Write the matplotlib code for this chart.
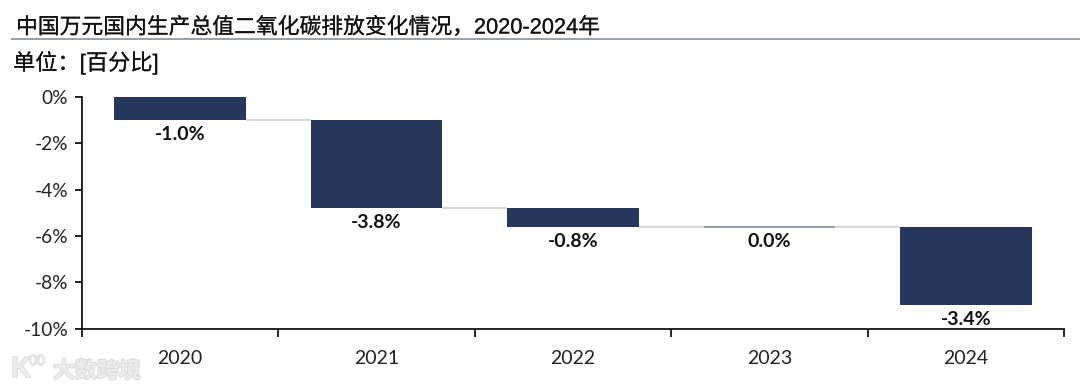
import matplotlib
matplotlib.use('Agg')
import matplotlib.pyplot as plt
import matplotlib.patheffects as pe
import numpy as np

plt.rcParams['font.family'] = ['Lato', 'Noto Sans CJK SC', 'DejaVu Sans']

# datos
years = ['2020', '2021', '2022', '2023', '2024']
changes = [-1.0, -3.8, -0.8, 0.0, -3.4]
change_labels = ['-1.0%', '-3.8%', '-0.8%', '0.0%', '-3.4%']
y_ticks = [0, -2, -4, -6, -8, -10]
y_tick_labels = ['0%', '-2%', '-4%', '-6%', '-8%', '-10%']

title = '中国万元国内生产总值二氧化碳排放变化情况，2020-2024年'
unit = '单位：[百分比]'
watermark = '大数跨境'

W, H = 1080, 391
navy = '#28375E'

fig = plt.figure(figsize=(W / 100, H / 100), dpi=100)
ax = fig.add_axes([82 / W, 1 - 328.5 / H, (1064 - 82) / W, (328.5 - 97) / H])

# barras en cascada
x = np.arange(len(years))
ends = np.cumsum(changes)
tops = ends - np.array(changes)
width = 0.67

# conectores grises
for i in range(len(years) - 1):
    ax.plot([x[i] + width / 2, x[i + 1] - width / 2], [ends[i], ends[i]],
            color='#D9D9D9', lw=1.6, zorder=1, solid_capstyle='butt')

ax.bar(x, changes, width, bottom=tops, color=navy, zorder=2)
ax.plot([x[3] - width / 2, x[3] + width / 2], [ends[3], ends[3]],
        color='#7F87A0', lw=1.2, zorder=2, solid_capstyle='butt')

for i in range(len(years)):
    ax.annotate(change_labels[i], (x[i], ends[i]), xytext=(0, -4.3),
                textcoords='offset points', ha='center', va='top',
                fontsize=14, fontweight='bold', color='#111111', zorder=3)

ax.set_xlim(-0.5, 4.5)
ax.set_ylim(-10, 0)
ax.set_yticks(y_ticks)
ax.set_yticklabels(y_tick_labels, fontsize=13.8, color='#222222')
ax.set_xticks(np.arange(-0.5, 5, 1))
ax.set_xticklabels([])
ax.tick_params(axis='y', length=5, width=1.2, pad=5)
ax.tick_params(axis='x', length=6, width=1.2)
for i in range(len(years)):
    ax.annotate(years[i], (x[i], -10), xytext=(0, -21.5),
                textcoords='offset points', ha='center', va='center',
                fontsize=14, color='#222222', annotation_clip=False)

ax.spines['top'].set_visible(False)
ax.spines['right'].set_visible(False)
ax.spines['left'].set_linewidth(1.2)
ax.spines['bottom'].set_linewidth(1.2)

# titulo y unidad
fig.text(16 / W, 1 - 28 / H, title, fontsize=15.7, color='#111111', va='center',
         family=['Liberation Sans', 'Noto Sans CJK SC'],
         path_effects=[pe.withStroke(linewidth=0.1, foreground='#111111')])
fig.add_artist(plt.Line2D([12 / W, 1], [1 - 39 / H, 1 - 39 / H], color='#9A9FB0', lw=1.4))
fig.text(13 / W, 1 - 63 / H, unit, fontsize=16, color='#111111', va='center',
         family=['Liberation Sans', 'Noto Sans CJK SC'],
         path_effects=[pe.withStroke(linewidth=0.1, foreground='#111111')])

# marca de agua
fig.text(53 / W, 1 - 371 / H, watermark, fontsize=15.8, color='#EDEDED', va='center',
         family=['Noto Sans CJK SC'], fontweight='bold',
         path_effects=[pe.withStroke(linewidth=1.2, foreground='#D8D8D8')])
fig.text(11 / W, 1 - 369 / H, 'K', fontsize=20, color='#EDEDED', va='center',
         fontweight='bold', path_effects=[pe.withStroke(linewidth=1.2, foreground='#D8D8D8')])
fig.text(29 / W, 1 - 361 / H, '00', fontsize=10, color='#EDEDED', va='center',
         path_effects=[pe.withStroke(linewidth=1.0, foreground='#D8D8D8')])

fig.savefig('out.png', dpi=100)
